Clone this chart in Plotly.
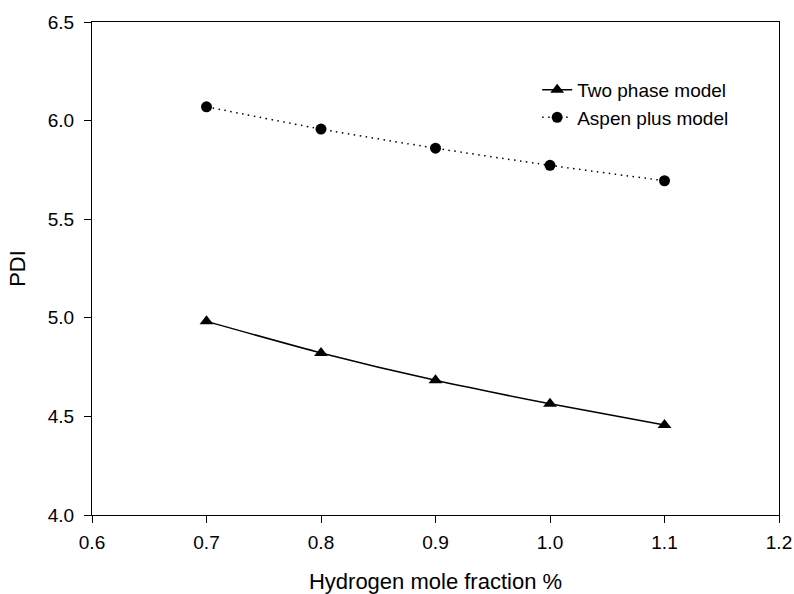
import plotly.graph_objects as go

x_vals = [0.7, 0.8, 0.9, 1.0, 1.1]
two_phase = [4.982, 4.822, 4.683, 4.564, 4.456]
aspen_plus = [6.070, 5.957, 5.860, 5.773, 5.695]
series_names = ["Two phase model", "Aspen plus model"]

x_ticks = [0.6, 0.7, 0.8, 0.9, 1.0, 1.1, 1.2]
y_ticks = [4.0, 4.5, 5.0, 5.5, 6.0, 6.5]

fig = go.Figure()
fig.add_trace(go.Scatter(
    x=x_vals, y=two_phase, name=series_names[0], mode="lines+markers",
    line=dict(color="black", width=1.5, shape="spline", smoothing=0.6),
    marker=dict(symbol="triangle-up", size=12, color="black"),
))
fig.add_trace(go.Scatter(
    x=x_vals, y=aspen_plus, name=series_names[1], mode="lines+markers",
    line=dict(color="black", width=1.5, dash="1.5px,4.5px", shape="spline", smoothing=0.6),
    marker=dict(symbol="circle", size=11, color="black"),
))

FONT = "Liberation Sans, Arial, sans-serif"

axis_common = dict(
    showline=True, linecolor="black", linewidth=1.2, mirror=True,
    ticks="outside", ticklen=7, tickwidth=1, tickcolor="black",
    showgrid=False, zeroline=False, automargin=False,
    tickfont=dict(family=FONT, size=19, color="black"),
)

fig.update_layout(
    width=794, height=594,
    margin=dict(l=92, r=15, t=22, b=79),
    paper_bgcolor="white", plot_bgcolor="white",
    font=dict(family=FONT, color="black"),
    xaxis=dict(range=[0.6, 1.2], tickvals=x_ticks,
               ticktext=[f"{v:.1f}" for v in x_ticks],
               ticklabelstandoff=3,
               title=dict(text="Hydrogen mole fraction %",
                          font=dict(size=22), standoff=21),
               **axis_common),
    yaxis=dict(range=[4.0, 6.5], tickvals=y_ticks,
               ticktext=[f"{v:.1f}" for v in y_ticks],
               ticklabelstandoff=6,
               title=dict(text="PDI", font=dict(size=22), standoff=15),
               **axis_common),
    legend=dict(x=0.648, y=0.901, xanchor="left", yanchor="top",
                font=dict(size=19), bgcolor="rgba(0,0,0,0)",
                tracegroupgap=0),
    showlegend=True,
)

fig.write_html("out.html",
               config={"displayModeBar": False},
               post_script="document.body.style.margin='0';document.body.style.overflow='hidden';")
